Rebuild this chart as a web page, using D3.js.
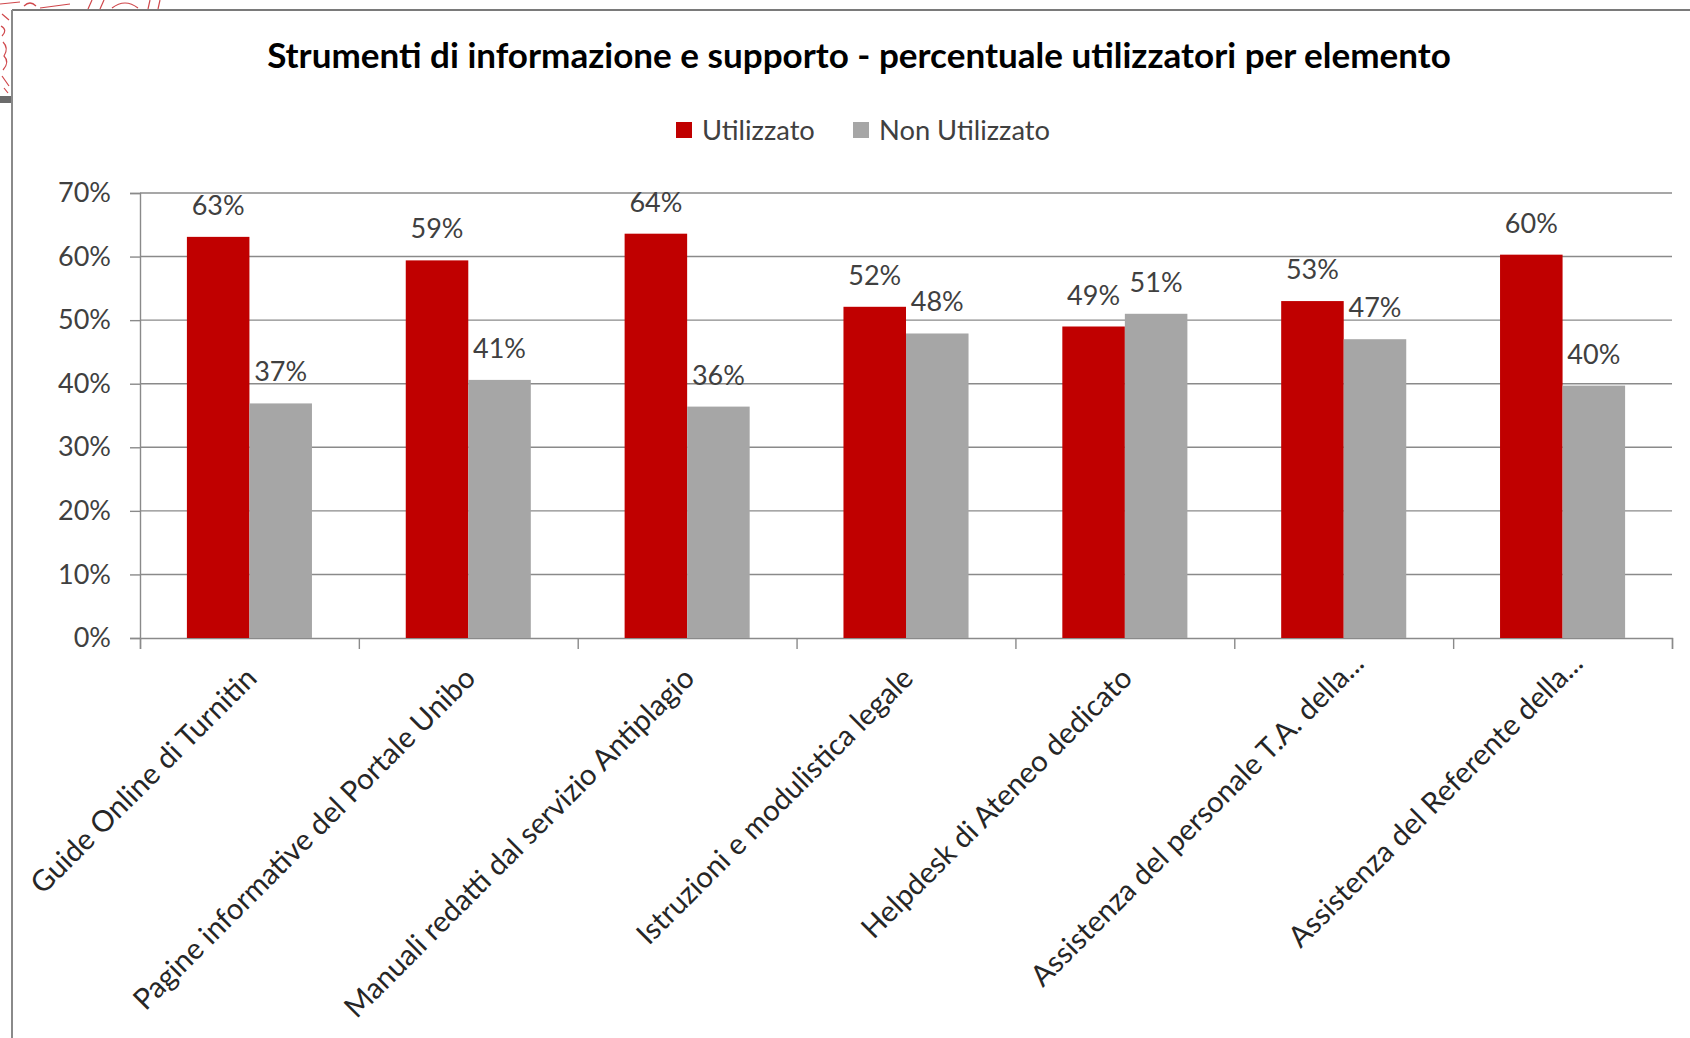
<!DOCTYPE html>
<html>
<head>
<meta charset="utf-8">
<script src="https://cdn.jsdelivr.net/npm/d3@7"></script>
<style>
  html, body { margin: 0; padding: 0; background: #fff; }
  svg { display: block; }
  text { font-family: Lato, "Open Sans", sans-serif; }
</style>
</head>
<body>
<svg id="chart" width="1690" height="1038"></svg>
<script>
// ---- Data ----
const categories = [
  "Guide Online di Turnitin",
  "Pagine informative del Portale Unibo",
  "Manuali redatti dal servizio Antiplagio",
  "Istruzioni e modulistica legale",
  "Helpdesk di Ateneo dedicato",
  "Assistenza del personale T.A. della...",
  "Assistenza del Referente della..."
];
const seriesNames = ["Utilizzato", "Non Utilizzato"];
const utilizzato    = [63.1, 59.4, 63.6, 52.1, 49.0, 53.0, 60.3];
const nonUtilizzato = [36.9, 40.6, 36.4, 47.9, 51.0, 47.0, 39.7];
const yTickValues = [0, 10, 20, 30, 40, 50, 60, 70];
const titleText = "Strumenti di informazione e supporto - percentuale utilizzatori per elemento";

const colors = { "Utilizzato": "#C00000", "Non Utilizzato": "#A6A6A6" };
const seriesValues = { "Utilizzato": utilizzato, "Non Utilizzato": nonUtilizzato };

// ---- Layout ----
const svg = d3.select("#chart");
const plot = { left: 140, right: 1672, top: 193, bottom: 638 };
const gridColor = "#8a8a8a";
const textColor = "#404040";

const x0 = d3.scaleBand()
  .domain(categories)
  .range([plot.left, plot.right])
  .paddingInner(3 / 7)
  .paddingOuter(1.5 / 7);
const x1 = d3.scaleBand()
  .domain(seriesNames)
  .range([0, x0.bandwidth()]);
const y = d3.scaleLinear().domain([0, 70]).range([plot.bottom, plot.top]);

function fitSize(str, targetWidth, weight) {
  const t = svg.append("text").attr("font-size", 100).attr("font-weight", weight || "normal").text(str);
  const w = t.node().getComputedTextLength();
  t.remove();
  return 100 * targetWidth / w;
}

// ---- Background fragment of slide (logo edge) ----
const logo = svg.append("g").attr("fill", "none").attr("stroke", "#c8282d").attr("stroke-width", 1.2).attr("opacity", 0.85);
logo.append("path").attr("d", "M0,4 L20,2 M24,6 Q30,0 36,6 M40,8 L70,4 M88,9 L92,0 M100,9 L104,0 M112,8 Q125,-2 138,8 M148,9 L150,0 M158,9 L160,0");
logo.append("path").attr("d", "M2,14 L9,20 M1,26 Q8,30 2,36 M3,42 Q9,48 4,56 Q10,62 3,70 M2,76 L9,86 M4,88 L8,93");
svg.append("rect").attr("x", 0).attr("y", 96).attr("width", 12).attr("height", 7).attr("fill", "#6b6b6b");

// ---- Chart frame ----
svg.append("line").attr("x1", 12).attr("x2", 1690).attr("y1", 10).attr("y2", 10)
  .attr("stroke", "#7a7a7a").attr("stroke-width", 2);
svg.append("line").attr("x1", 12).attr("x2", 12).attr("y1", 10).attr("y2", 1038)
  .attr("stroke", "#8a8a8a").attr("stroke-width", 2);

// ---- Title ----
const titleSize = fitSize(titleText, 1184, "bold");
svg.append("text")
  .attr("x", 859).attr("y", 68)
  .attr("text-anchor", "middle")
  .attr("font-weight", "bold")
  .attr("font-size", titleSize)
  .attr("fill", "#000")
  .text(titleText);

// ---- Legend ----
const legendSize = fitSize("Non Utilizzato", 171);
const legend = svg.append("g");
const legendX = { "Utilizzato": 676, "Non Utilizzato": 853 };
seriesNames.forEach(s => {
  legend.append("rect")
    .attr("x", legendX[s]).attr("y", 122).attr("width", 16).attr("height", 16)
    .attr("fill", colors[s]);
  legend.append("text")
    .attr("x", legendX[s] + 26).attr("y", 130).attr("dy", "0.36em")
    .attr("font-size", legendSize).attr("fill", textColor)
    .text(s);
});

// ---- Gridlines ----
svg.append("g")
  .selectAll("line")
  .data(yTickValues.filter(d => d > 0))
  .join("line")
  .attr("x1", plot.left).attr("x2", plot.right)
  .attr("y1", d => y(d)).attr("y2", d => y(d))
  .attr("stroke", gridColor).attr("stroke-width", 1.4);

// ---- Y axis ----
const tickSize = fitSize("70%", 53);
const yAxis = svg.append("g")
  .attr("transform", `translate(${plot.left},0)`)
  .call(d3.axisLeft(y).tickValues(yTickValues).tickSize(10).tickPadding(19)
    .tickFormat(d => d + "%"));
yAxis.select(".domain").attr("stroke", gridColor).attr("stroke-width", 1.4);
yAxis.selectAll(".tick line").attr("stroke", gridColor).attr("stroke-width", 1.4);
yAxis.selectAll(".tick text")
  .attr("font-size", tickSize).attr("fill", textColor)
  .attr("font-family", "Lato, 'Open Sans', sans-serif");

// ---- X axis (boundary ticks) ----
const boundaries = d3.range(categories.length + 1);
const xb = d3.scaleLinear().domain([0, categories.length]).range([plot.left, plot.right]);
const xAxis = svg.append("g")
  .attr("transform", `translate(0,${plot.bottom})`)
  .call(d3.axisBottom(xb).tickValues(boundaries).tickSize(11).tickFormat(""));
xAxis.select(".domain").attr("stroke", gridColor).attr("stroke-width", 1.4);
xAxis.selectAll(".tick line").attr("stroke", gridColor).attr("stroke-width", 1.4);

// ---- Bars ----
const groups = svg.append("g")
  .selectAll("g")
  .data(categories)
  .join("g")
  .attr("transform", d => `translate(${x0(d)},0)`);

groups.selectAll("rect")
  .data((d, i) => seriesNames.map(s => ({ s, v: seriesValues[s][i] })))
  .join("rect")
  .attr("x", d => x1(d.s))
  .attr("y", d => y(d.v))
  .attr("width", x1.bandwidth())
  .attr("height", d => y(0) - y(d.v))
  .attr("fill", d => colors[d.s]);

// ---- Data labels ----
groups.selectAll("text.val")
  .data((d, i) => seriesNames.map(s => ({ s, v: seriesValues[s][i] })))
  .join("text")
  .attr("class", "val")
  .attr("x", d => x1(d.s) + x1.bandwidth() / 2)
  .attr("y", d => y(d.v) - 22)
  .attr("text-anchor", "middle")
  .attr("font-size", tickSize)
  .attr("fill", textColor)
  .text(d => Math.round(d.v) + "%");

// ---- Category labels ----
const catSize = fitSize(categories[0], 305);
svg.append("g")
  .selectAll("text")
  .data(categories)
  .join("text")
  .attr("text-anchor", "end")
  .attr("font-size", catSize)
  .attr("fill", "#262626")
  .attr("transform", d => {
    const cx = x0(d) + x0.bandwidth() / 2;
    const trunc = d.endsWith("...");
    const ax = cx + (trunc ? 22 : 9);
    const ay = plot.bottom + (trunc ? 27 : 42);
    return `translate(${ax},${ay}) rotate(-45)`;
  })
  .text(d => d);
</script>
</body>
</html>
